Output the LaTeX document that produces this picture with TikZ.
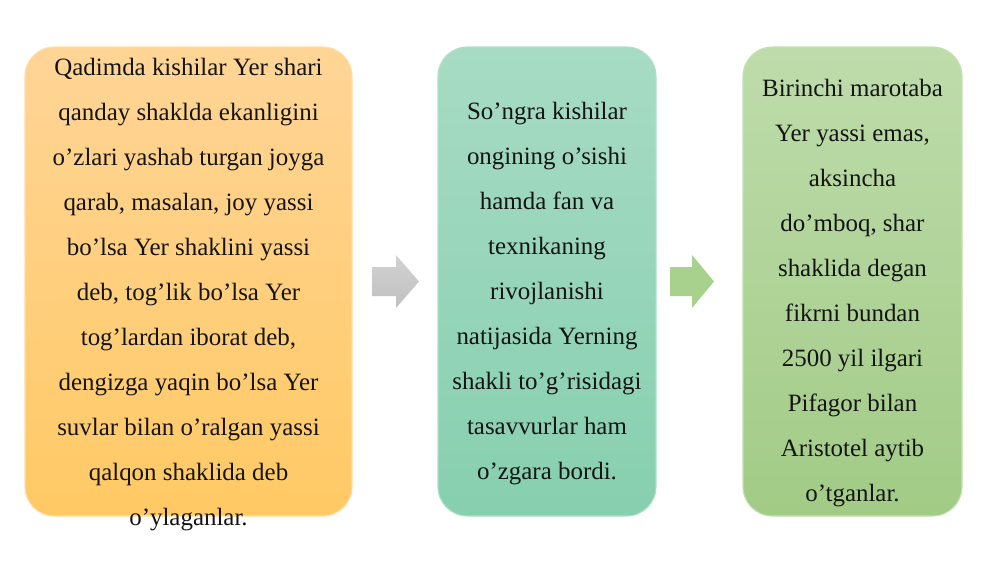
\documentclass[tikz,border=0pt]{standalone}
\usepackage{fontspec}
\setmainfont{Liberation Serif}
\definecolor{orTop}{HTML}{FFD597}
\definecolor{orBot}{HTML}{FFC964}
\definecolor{orLine}{HTML}{FFDDA6}
\definecolor{tlTop}{HTML}{A7DBC4}
\definecolor{tlBot}{HTML}{86CFAF}
\definecolor{tlLine}{HTML}{B0DFCB}
\definecolor{grTop}{HTML}{BEDCAB}
\definecolor{grBot}{HTML}{A2CB86}
\definecolor{grLine}{HTML}{C4E0B2}
\definecolor{arGrayT}{HTML}{D2D2D2}
\definecolor{arGrayB}{HTML}{C0C0C0}
\definecolor{arGreen}{HTML}{A9D18E}
\definecolor{txt}{HTML}{141414}
\begin{document}
\begin{tikzpicture}[x=0.75pt,y=-0.75pt,
  panel/.style={rounded corners=22pt, line width=0.8pt, inner sep=0pt},
  paneltext/.style={align=center, text=txt, font=\fontsize{18.7}{33.7}\selectfont, inner sep=0pt}]
\useasboundingbox (0,0) rectangle (1000,562);
\fill[white] (0,0) rectangle (1000,562);
% panels
\draw[panel, draw=orLine, top color=orTop, bottom color=orBot] (25,47) rectangle (352,516);
\draw[panel, draw=tlLine, top color=tlTop, bottom color=tlBot] (438,47) rectangle (656,516);
\draw[panel, draw=grLine, top color=grTop, bottom color=grBot] (743,47) rectangle (962,516);
\coordinate (p1) at (188.5,294.5);
\coordinate (p2) at (547,293.5);
\coordinate (p3) at (852.5,293);
% texts
\node[paneltext] (t1) at (p1) {Qadimda kishilar Yer shari\\qanday shaklda ekanligini\\o’zlari yashab turgan joyga\\qarab, masalan, joy yassi\\bo’lsa Yer shaklini yassi\\deb, tog’lik bo’lsa Yer\\tog’lardan iborat deb,\\dengizga yaqin bo’lsa Yer\\suvlar bilan o’ralgan yassi\\qalqon shaklida deb\\o’ylaganlar.};
\node[paneltext] (t2) at (p2) {So’ngra kishilar\\ongining o’sishi\\hamda fan va\\texnikaning\\rivojlanishi\\natijasida Yerning\\shakli to’g’risidagi\\tasavvurlar ham\\o’zgara bordi.};
\node[paneltext] (t3) at (p3) {Birinchi marotaba\\Yer yassi emas,\\aksincha\\do’mboq, shar\\shaklida degan\\fikrni bundan\\2500 yil ilgari\\Pifagor bilan\\Aristotel aytib\\o’tganlar.};
% block arrows
\shade[top color=arGrayT, bottom color=arGrayB] (372,267) -- (396,267) -- (396,255) -- (419,281.5) -- (396,308) -- (396,296) -- (372,296) -- cycle;
\fill[arGreen] (670,267) -- (692,267) -- (692,255) -- (714,281.5) -- (692,308) -- (692,296) -- (670,296) -- cycle;
\end{tikzpicture}
\end{document}
